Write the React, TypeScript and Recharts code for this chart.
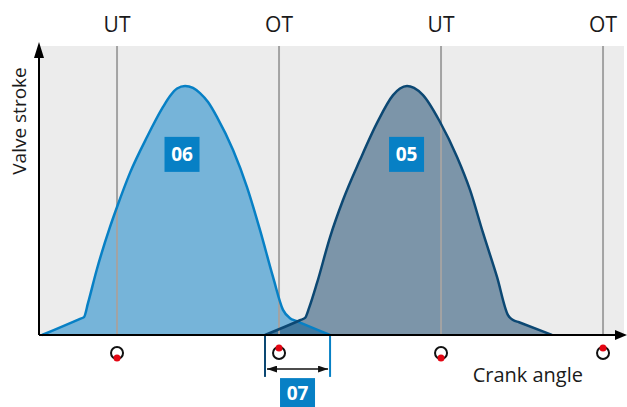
import {
  ComposedChart,
  Area,
  Line,
  XAxis,
  YAxis,
  CartesianGrid,
  ReferenceLine,
  ReferenceDot,
} from "recharts";

// crank angle in degrees, valve stroke in % of plot height
const exhaustAngle = [96.7, 138.9, 143.3, 147.8, 157.4, 172.2, 180, 194.4, 213.3, 231.1, 238.9, 246.7, 255.6, 264.4, 272.2, 281.1, 291.1, 308.9, 324.4, 338.9, 353.3, 364.4, 372.2, 378.9, 416.7];
const exhaustLift = [0, 5.6, 6.2, 11.1, 22.5, 37.4, 44.3, 56.1, 68.5, 78.9, 82.7, 85.3, 86.2, 85.5, 83.7, 80.6, 75.4, 64.0, 51.2, 36.3, 20.1, 8.7, 5.8, 4.9, 0];

const intakeAngle = [344.4, 383.3, 388.9, 393.3, 402.2, 416.7, 431.1, 450, 468.9, 486.7, 494.4, 502.2, 510, 520, 538.9, 557.8, 572.2, 586.7, 602.2, 614.4, 620, 626.7, 663.3];
const intakeLift = [0, 5.1, 5.9, 9.3, 18.0, 33.9, 46.7, 60.6, 73.4, 83.0, 85.3, 86.2, 85.5, 83.0, 73.7, 61.6, 50.2, 35.3, 20.1, 6.9, 5.2, 4.4, 0];

const deadCenters = [180, 360, 540, 720];
const deadCenterLabels = ["UT", "OT", "UT", "OT"];

const badges = [
  { text: "06", angle: 252.2, lift: 62.5 },
  { text: "05", angle: 501.7, lift: 62.5 },
];

const xDomain: [number, number] = [93.3, 743.3];

const BLUE = "#0780c5";
const NAVY = "#0c4873";

function buildRows() {
  const map = new Map<number, { angle: number; exhaust?: number; intake?: number }>();
  exhaustAngle.forEach((a, i) => {
    map.set(a, { ...(map.get(a) ?? { angle: a }), exhaust: exhaustLift[i] });
  });
  intakeAngle.forEach((a, i) => {
    map.set(a, { ...(map.get(a) ?? { angle: a }), intake: intakeLift[i] });
  });
  return [...map.values()].sort((p, q) => p.angle - q.angle);
}

const rows = buildRows();

function CrankTick({ x, y, payload }: any) {
  const tdc = payload.value % 360 === 0;
  return (
    <g>
      <circle cx={x} cy={y + 10} r={6} fill="#fff" stroke="#111" strokeWidth={2} />
      <circle cx={x} cy={y + 10 + (tdc ? -5 : 5)} r={3.5} fill="#e30613" />
    </g>
  );
}

function Badge({ cx, cy, text, w = 35, h = 35 }: any) {
  return (
    <g>
      <rect x={cx - w / 2} y={cy - h / 2} width={w} height={h} fill={BLUE} />
      <text
        x={cx}
        y={cy}
        textAnchor="middle"
        dominantBaseline="central"
        fill="#fff"
        fontWeight={700}
        fontSize={19}
      >
        {text}
      </text>
    </g>
  );
}

function OverlapArrow(props: any) {
  const { x1, x2, y1 } = props;
  const mid = (x1 + x2) / 2;
  return (
    <g>
      <line
        x1={x1 + 2}
        x2={x2 - 2}
        y1={y1}
        y2={y1}
        stroke="#111"
        strokeWidth={1.5}
        markerStart="url(#dimArrow)"
        markerEnd="url(#dimArrow)"
      />
      <Badge cx={mid} cy={y1 + 24} text="07" h={30} />
    </g>
  );
}

export default function App() {
  const overlapStart = intakeAngle[0];
  const overlapEnd = exhaustAngle[exhaustAngle.length - 1];
  return (
    <div style={{ position: "absolute", left: 0, top: 0, fontFamily: '"Open Sans", sans-serif' }}>
      <ComposedChart width={627} height={407} data={rows} margin={{ top: 46, right: 3, left: 0, bottom: 0 }}>
        <defs>
          <marker id="yArrow" viewBox="0 0 16 10" markerWidth={16} markerHeight={10} refX={12} refY={5} orient="auto-start-reverse" markerUnits="userSpaceOnUse">
            <path d="M0,0 L16,5 L0,10 z" fill="#000" />
          </marker>
          <marker id="xArrow" viewBox="0 0 12 10" markerWidth={12} markerHeight={10} refX={9} refY={5} orient="auto" markerUnits="userSpaceOnUse">
            <path d="M0,0 L12,5 L0,10 z" fill="#000" />
          </marker>
          <marker id="dimArrow" viewBox="0 0 10 7" markerWidth={10} markerHeight={7} refX={10} refY={3.5} orient="auto-start-reverse" markerUnits="userSpaceOnUse">
            <path d="M0,0 L10,3.5 L0,7 z" fill="#111" />
          </marker>
        </defs>
        <CartesianGrid fill="#ececec" fillOpacity={1} horizontal={false} vertical={false} />
        <XAxis
          dataKey="angle"
          type="number"
          domain={xDomain}
          ticks={deadCenters}
          tick={<CrankTick />}
          tickLine={false}
          height={72}
          axisLine={{ stroke: "#000", strokeWidth: 2, markerEnd: "url(#xArrow)" }}
          label={{
            content: ({ viewBox }: any) => (
              <text x={viewBox.x + viewBox.width - 41} y={viewBox.y + 47} textAnchor="end" fontSize={20} fill="#1a1a1a">
                Crank angle
              </text>
            ),
          }}
        />
        <YAxis
          type="number"
          domain={[0, 100]}
          width={39}
          tick={false}
          tickLine={false}
          axisLine={{ stroke: "#000", strokeWidth: 2, markerStart: "url(#yArrow)" }}
          label={{
            content: ({ viewBox }: any) => (
              <text
                x={viewBox.x + 19}
                y={viewBox.y + 75}
                textAnchor="middle"
                dominantBaseline="central"
                fontSize={19}
                fill="#1a1a1a"
                transform={`rotate(-90 ${viewBox.x + 19} ${viewBox.y + 75})`}
              >
                Valve stroke
              </text>
            ),
          }}
        />
        <Area
          dataKey="exhaust"
          type="monotone"
          fill="#76b4d9"
          fillOpacity={1}
          stroke="none"
          connectNulls
          isAnimationActive={false}
        />
        <Area
          dataKey="intake"
          type="monotone"
          fill="#0b3d66"
          fillOpacity={0.5}
          stroke="none"
          connectNulls
          isAnimationActive={false}
        />
        {deadCenters.map((a, i) => (
          <ReferenceLine
            key={a}
            x={a}
            stroke="#a3a3a3"
            strokeWidth={2}
            label={{ value: deadCenterLabels[i], position: "top", offset: 14, fontSize: 21, fill: "#1a1a1a" }}
          />
        ))}
        <Line dataKey="exhaust" type="monotone" stroke={BLUE} strokeWidth={2.5} dot={false} connectNulls isAnimationActive={false} />
        <Line dataKey="intake" type="monotone" stroke={NAVY} strokeWidth={2.5} dot={false} connectNulls isAnimationActive={false} />
        <ReferenceLine
          segment={[{ x: overlapStart, y: 0 }, { x: overlapStart, y: -14.5 }]}
          stroke={NAVY}
          strokeWidth={2}
          ifOverflow="visible"
        />
        <ReferenceLine
          segment={[{ x: overlapEnd, y: 0 }, { x: overlapEnd, y: -14.5 }]}
          stroke={BLUE}
          strokeWidth={2}
          ifOverflow="visible"
        />
        <ReferenceLine
          segment={[{ x: overlapStart, y: -11.8 }, { x: overlapEnd, y: -11.8 }]}
          ifOverflow="visible"
          shape={<OverlapArrow />}
        />
        {badges.map((b) => (
          <ReferenceDot
            key={b.text}
            x={b.angle}
            y={b.lift}
            ifOverflow="visible"
            shape={(p: any) => <Badge cx={p.cx} cy={p.cy} text={b.text} />}
          />
        ))}
      </ComposedChart>
    </div>
  );
}
